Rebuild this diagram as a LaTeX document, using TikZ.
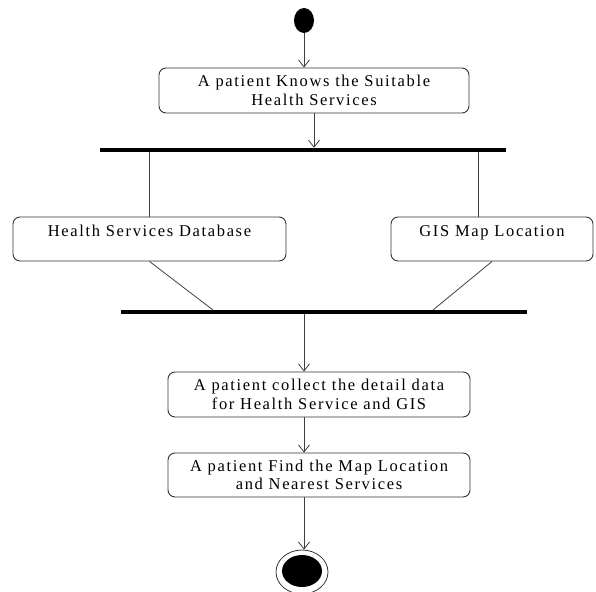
\documentclass[tikz,border=0pt]{standalone}
\usepackage{fontspec}
\setmainfont{Liberation Serif}[LetterSpace=10]
\usetikzlibrary{arrows.meta,shapes.geometric}
\begin{document}
\begin{tikzpicture}[x=1pt,y=-1pt,
  act/.style={draw=black!80, rounded corners=7pt, line width=0.9pt, align=center,
    font=\fontsize{16.5}{18.5}\selectfont, inner sep=0pt},
  single/.style={text height=11pt, text depth=17pt},
  bar/.style={fill=black, inner sep=0pt, minimum height=4pt},
  flow/.style={draw=black!75, line width=0.8pt, -{Straight Barb[length=7pt,width=11pt]}},
  link/.style={draw=black!75, line width=0.8pt}]
\useasboundingbox (0,0) rectangle (596,591);
% start
\node[ellipse, fill=black, inner sep=0pt, minimum width=20pt, minimum height=25pt] (start) at (304,20.5) {};
% activity 1
\node[act, minimum width=310pt, minimum height=45pt] (a1) at (314,90.5)
  {A patient Knows the Suitable\\Health Services};
% fork bar
\node[bar, minimum width=406pt] (bar1) at (303,150) {};
% parallel activities
\node[act, single, minimum width=273pt, minimum height=44pt] (hsd) at (149.5,239) {Health Services Database};
\node[act, single, minimum width=202pt, minimum height=44pt] (gis) at (492,239) {GIS Map Location};
\coordinate (gtop) at (478,217);
% join bar
\node[bar, minimum width=406pt] (bar2) at (324,312) {};
\coordinate (j1) at (213,310);
\coordinate (j2) at (433,310);
% activities 3 and 4
\node[act, minimum width=302pt, minimum height=45pt] (a3) at (319,394.5)
  {A patient collect the detail data\\for Health Service and GIS};
\node[act, minimum width=302pt, minimum height=44pt] (a4) at (319,475)
  {A patient Find the Map Location\\and Nearest Services};
% end
\node[ellipse, draw=black!80, line width=0.8pt, inner sep=0pt, minimum width=52pt, minimum height=44pt] (endo) at (302,572) {};
\node[ellipse, fill=black, inner sep=0pt, minimum width=40pt, minimum height=32pt] (endi) at (302,571) {};
% connectors
\draw[flow] (start) -- (start |- a1.north);
\draw[flow] (a1.south) -- (a1.south |- bar1.north);
\draw[link] (bar1.south -| hsd.north) -- (hsd.north);
\draw[link] (bar1.south -| gtop) -- (gtop);
\draw[link] (hsd.south) -- (j1);
\draw[link] (gis.south) -- (j2);
\draw[flow] (bar2.south -| start) -- (a3.north -| start);
\draw[flow] (a3.south -| start) -- (a4.north -| start);
\draw[flow] (a4.south -| start) -- (start |- endo.north);
\end{tikzpicture}
\end{document}
